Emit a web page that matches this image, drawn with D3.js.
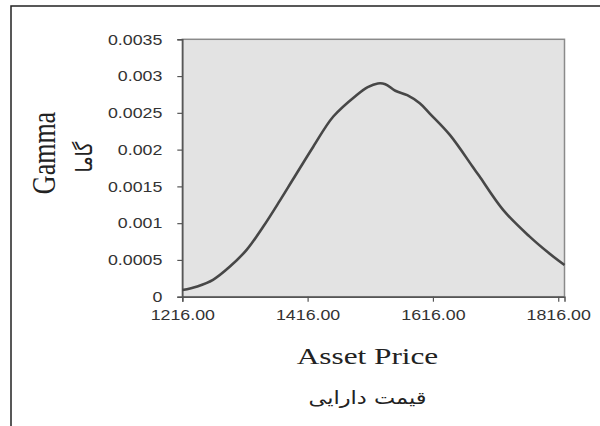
<!DOCTYPE html>
<html>
<head>
<meta charset="utf-8">
<script src="https://cdn.jsdelivr.net/npm/d3@7"></script>
<style>
  html, body { margin: 0; padding: 0; background: #fff; }
  svg { display: block; }
</style>
</head>
<body>
<div id="chart"></div>
<script>
// Asset price (x) and gamma (y)
const prices = [1216, 1240, 1265, 1292, 1319, 1345, 1372, 1393, 1425, 1457, 1494, 1512, 1528, 1540, 1556, 1575, 1595, 1611, 1643, 1680, 1690, 1728, 1770, 1800, 1826];
const gamma = [0.00009, 0.00014, 0.00023, 0.00041, 0.00064, 0.00095, 0.00131, 0.00160, 0.00204, 0.00245, 0.00274, 0.00285, 0.00290, 0.00289, 0.00280, 0.00274, 0.00263, 0.00249, 0.00220, 0.00176, 0.00164, 0.00118, 0.00082, 0.00060, 0.00043];
const xTicks = [1216, 1416, 1616, 1816];
const yTicks = [0, 0.0005, 0.001, 0.0015, 0.002, 0.0025, 0.003, 0.0035];

const W = 600;
const H = 426;
const plot = { left: 182.3, right: 564.5, top: 39.3, bottom: 296.7 };
const SX = 1.27; // the scan is stretched sideways

const svg = d3.select('#chart').append('svg')
  .attr('width', W)
  .attr('height', H);

// outer frame (only top and left edges are in the picture)
svg.append('path')
  .attr('d', `M11,${H} L11,6 L${W},6`)
  .attr('fill', 'none')
  .attr('stroke', '#222')
  .attr('stroke-width', 1.5);

const x = d3.scaleLinear().domain([1216, 1826]).range([plot.left, plot.right]);
const y = d3.scaleLinear().domain([0, 0.0035]).range([plot.bottom, plot.top]);

// plot area
svg.append('rect')
  .attr('x', plot.left)
  .attr('y', plot.top)
  .attr('width', plot.right - plot.left)
  .attr('height', plot.bottom - plot.top)
  .attr('fill', '#e3e3e3')
  .attr('stroke', '#8a8a8a')
  .attr('stroke-width', 1.5);

// axes
const yAxis = svg.append('g')
  .attr('transform', `translate(${plot.left},0)`)
  .call(d3.axisLeft(y).tickValues(yTicks).tickSize(5).tickFormat(d => String(+d.toFixed(4))));
const xAxis = svg.append('g')
  .attr('transform', `translate(0,${plot.bottom})`)
  .call(d3.axisBottom(x).tickValues(xTicks).tickSize(5).tickFormat(d3.format('.2f')));

[yAxis, xAxis].forEach((g) => {
  g.select('.domain').attr('stroke', '#555').attr('stroke-width', 1.5);
  g.selectAll('.tick line').attr('stroke', '#555').attr('stroke-width', 1.2);
  g.selectAll('.tick text')
    .attr('fill', '#333')
    .style('font-family', '"Liberation Sans", Arial, sans-serif')
    .style('font-size', '14px');
});

// stretch tick labels sideways around their anchor
yAxis.selectAll('.tick text')
  .attr('x', null)
  .attr('dy', null)
  .attr('dominant-baseline', 'central')
  .attr('transform', `translate(-20,0) scale(${SX},1)`);
xAxis.selectAll('.tick text')
  .attr('y', null)
  .attr('dy', null)
  .attr('transform', `translate(0,23) scale(${SX},1)`);

// gamma line
const line = d3.line()
  .x((d, i) => x(prices[i]))
  .y(d => y(d))
  .curve(d3.curveCatmullRom);

svg.append('path')
  .datum(gamma)
  .attr('d', line)
  .attr('fill', 'none')
  .attr('stroke', '#474747')
  .attr('stroke-width', 2.6);

// axis titles
const serif = '"Liberation Serif", "Times New Roman", serif';
const arabic = '"DejaVu Sans", sans-serif';

svg.append('text')
  .attr('transform', `translate(55,153) scale(${SX},1) rotate(-90)`)
  .attr('text-anchor', 'middle')
  .attr('fill', '#222')
  .style('font-family', serif)
  .style('font-size', '26px')
  .text('Gamma');

svg.append('text')
  .attr('transform', `translate(92,157) scale(1.2,1) rotate(-90)`)
  .attr('text-anchor', 'middle')
  .attr('fill', '#222')
  .style('font-family', arabic)
  .style('font-size', '19px')
  .attr('direction', 'rtl')
  .text('گاما');

svg.append('text')
  .attr('transform', `translate(367.5,364) scale(1.36,1)`)
  .attr('text-anchor', 'middle')
  .attr('fill', '#222')
  .style('font-family', serif)
  .style('font-size', '23px')
  .text('Asset Price');

svg.append('text')
  .attr('transform', `translate(367.5,404) scale(1.25,1)`)
  .attr('text-anchor', 'middle')
  .attr('fill', '#222')
  .style('font-family', arabic)
  .style('font-size', '18px')
  .attr('direction', 'rtl')
  .text('قیمت دارایی');
</script>
</body>
</html>
